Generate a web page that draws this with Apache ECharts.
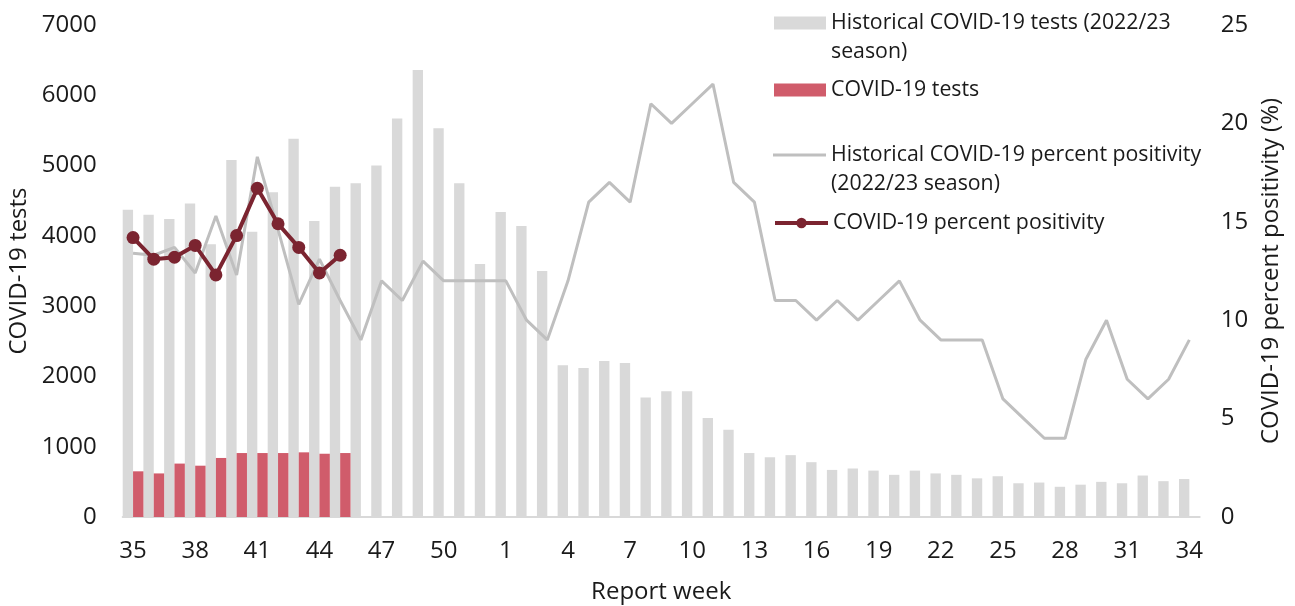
<!DOCTYPE html>
<html>
<head>
<meta charset="utf-8">
<script src="https://cdn.jsdelivr.net/npm/echarts@6/dist/echarts.min.js"></script>
<style>
  html, body { margin: 0; padding: 0; background: #fff; }
  #chart { width: 1295px; height: 606px; }
</style>
</head>
<body>
<div id="chart"></div>
<script>
const weeks = ['35', '36', '37', '38', '39', '40', '41', '42', '43', '44', '45', '46', '47', '48', '49', '50', '51', '52',
  '1', '2', '3', '4', '5', '6', '7', '8', '9', '10', '11', '12', '13', '14', '15', '16', '17', '18', '19', '20',
  '21', '22', '23', '24', '25', '26', '27', '28', '29', '30', '31', '32', '33', '34'];

// historical tests, 2022/23 season
const histTests = [4370, 4300, 4240, 4460, 3880, 5080, 4060, 4620, 5380, 4210, 4700, 4750, 5000, 5670, 6360, 5530, 4750, 3600,
  4340, 4140, 3500, 2160, 2120, 2220, 2190, 1700, 1790, 1790, 1410, 1240, 910, 850, 880, 780, 670, 690, 660, 600,
  660, 620, 600, 550, 580, 480, 490, 430, 460, 500, 480, 590, 510, 540];

// current season tests
const tests = [650, 620, 760, 730, 840, 910, 910, 910, 920, 900, 910];

// historical percent positivity, 2022/23 season
const histPos = [13.4, 13.3, 13.7, 12.4, 15.3, 12.3, 18.3, 14.6, 10.8, 13.1, 11.0, 9, 12, 11, 13, 12, 12, 12,
  12, 10, 9, 12, 16, 17, 16, 21, 20, 21, 22, 17, 16, 11, 11, 10, 11, 10, 11, 12,
  10, 9, 9, 9, 6, 5, 4, 4, 8, 10, 7, 6, 7, 9];

// current season percent positivity
const pos = [14.2, 13.1, 13.2, 13.8, 12.3, 14.3, 16.7, 14.9, 13.7, 12.4, 13.3];

const names = {
  histTests: 'Historical COVID-19 tests (2022/23 season)',
  tests: 'COVID-19 tests',
  histPos: 'Historical COVID-19 percent positivity (2022/23 season)',
  pos: 'COVID-19 percent positivity'
};

const font = 'Open Sans';
const textColor = '#1a1a1a';
const axisFont = 24;
const lh = 29;

const axisText = { fontFamily: font, fontSize: axisFont, color: textColor };

const legendBase = {
  left: 774,
  padding: 0,
  itemWidth: 52,
  itemHeight: 13,
  itemGap: 0,
  selectedMode: false,
  textStyle: { fontFamily: font, fontSize: 21.3, color: textColor, lineHeight: lh }
};

const chart = echarts.init(document.getElementById('chart'));

const option = {
  animation: false,
  textStyle: { fontFamily: font },
  grid: {
    left: 122.7,
    right: 95.3,
    top: 25,
    bottom: 89,
    outerBoundsMode: 'none',
    containLabel: false
  },
  legend: [
    Object.assign({}, legendBase, {
      top: -20.5,
      icon: 'rect',
      data: [names.histTests],
      // leading blank line keeps the icon level with the first text line
      formatter: () => '\nHistorical COVID-19 tests (2022/23\nseason)'
    }),
    Object.assign({}, legendBase, {
      top: 75.5,
      icon: 'rect',
      data: [names.tests]
    }),
    Object.assign({}, legendBase, {
      top: 111.5,
      left: 773,
      itemWidth: 53,
      icon: 'rect',
      itemHeight: 3,
      data: [names.histPos],
      formatter: () => '\nHistorical COVID-19 percent positivity\n(2022/23 season)'
    }),
    Object.assign({}, legendBase, {
      top: 208.5,
      left: 773,
      itemWidth: 53,
      data: [names.pos],
      lineStyle: { width: 4 }
    })
  ],
  xAxis: {
    type: 'category',
    data: weeks,
    boundaryGap: true,
    name: 'Report week',
    nameLocation: 'middle',
    nameGap: 63,
    nameTextStyle: axisText,
    axisLine: { lineStyle: { color: '#d9d9d9', width: 2 } },
    axisTick: { show: false },
    axisLabel: Object.assign({ interval: 2, margin: 22 }, axisText)
  },
  yAxis: [
    {
      type: 'value',
      min: 0,
      max: 7000,
      interval: 1000,
      name: 'COVID-19 tests',
      nameLocation: 'middle',
      nameGap: 90,
      nameTextStyle: axisText,
      axisLine: { show: false },
      axisTick: { show: false },
      splitLine: { show: false },
      axisLabel: Object.assign({ margin: 26, formatter: v => String(v) }, axisText)
    },
    {
      type: 'value',
      min: 0,
      max: 25,
      interval: 5,
      name: 'COVID-19 percent positivity (%)',
      nameLocation: 'middle',
      nameGap: 56,
      nameTextStyle: axisText,
      axisLine: { show: false },
      axisTick: { show: false },
      splitLine: { show: false },
      axisLabel: Object.assign({ margin: 21, formatter: v => String(v) }, axisText)
    }
  ],
  series: [
    {
      name: names.histTests,
      type: 'bar',
      data: histTests,
      barGap: '0%',
      barCategoryGap: '0%',
      itemStyle: { color: '#d9d9d9' }
    },
    {
      name: names.tests,
      type: 'bar',
      data: tests,
      barGap: '0%',
      barCategoryGap: '0%',
      itemStyle: { color: '#d05c6b' }
    },
    {
      name: names.histPos,
      type: 'line',
      yAxisIndex: 1,
      data: histPos,
      symbol: 'none',
      lineStyle: { color: '#bfbfbf', width: 3 },
      itemStyle: { color: '#bfbfbf' }
    },
    {
      name: names.pos,
      type: 'line',
      yAxisIndex: 1,
      data: pos,
      symbol: 'circle',
      symbolSize: 13,
      lineStyle: { color: '#7b2430', width: 4 },
      itemStyle: { color: '#7b2430' }
    }
  ]
};

chart.setOption(option);
</script>
</body>
</html>
